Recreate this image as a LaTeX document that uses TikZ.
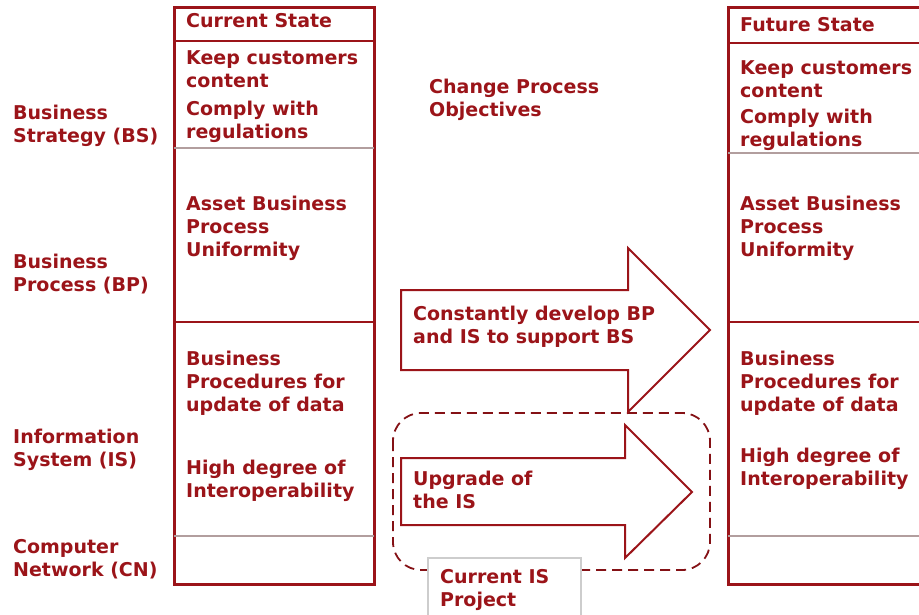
\documentclass[tikz,border=0pt]{standalone}
\usepackage{fontspec}
\setmainfont{DejaVu Sans}
\usetikzlibrary{positioning}
\definecolor{statered}{RGB}{155,20,25}
\definecolor{rowgrey}{RGB}{178,158,158}
\definecolor{boxgrey}{RGB}{205,205,205}

\begin{document}
\begin{tikzpicture}[x=1pt, y=-1pt,
  lbl/.style={anchor=base west, inner sep=0pt, align=left, text=statered,
    font=\fontsize{19}{23}\selectfont\bfseries},
  frame/.style={draw=statered, line width=3pt},
  redrule/.style={draw=statered, line width=2pt},
  greyrule/.style={draw=rowgrey, line width=1.4pt},
  bigarrow/.style={draw=statered, line width=2pt, fill=white, line join=miter},
]
\clip (0,0) rectangle (919,615);

% layer labels (base = last line)
\node[lbl] (bs) at (13,143) {Business\\Strategy (BS)};
\node[lbl] (bp) at (13,291) {Business\\Process (BP)};
\node[lbl] (is) at (13,466) {Information\\System (IS)};
\node[lbl] (cn) at (13,576) {Computer\\Network (CN)};

% current state column
\draw[frame] (174,8) rectangle (374,584);
\draw[redrule] (174,41) -- (374,41);
\draw[greyrule] (174,148) -- (374,148);
\draw[redrule] (174,322) -- (374,322);
\draw[greyrule] (174,536) -- (374,536);
\node[lbl] (curhead) at (186,28) {Current State};
\node[lbl] (curkeep) at (186,88) {Keep customers\\content};
\node[lbl] (curcomply) at (186,139) {Comply with\\regulations};
\node[lbl] (curasset) at (186,256) {Asset Business\\Process\\Uniformity};
\node[lbl] (curproc) at (186,411) {Business\\Procedures for\\update of data};
\node[lbl] (curinterop) at (186,497) {High degree of\\Interoperability};

% future state column
\draw[frame] (728,8) rectangle (940,584);
\draw[redrule] (728,43) -- (940,43);
\draw[greyrule] (728,153) -- (940,153);
\draw[redrule] (728,322) -- (940,322);
\draw[greyrule] (728,536) -- (940,536);
\node[lbl] (futhead) at (740,32) {Future State};
\node[lbl] (futkeep) at (740,98) {Keep customers\\content};
\node[lbl] (futcomply) at (740,147) {Comply with\\regulations};
\node[lbl] (futasset) at (740,256) {Asset Business\\Process\\Uniformity};
\node[lbl] (futproc) at (740,411) {Business\\Procedures for\\update of data};
\node[lbl] (futinterop) at (740,485) {High degree of\\Interoperability};

\node[lbl] (objectives) at (429,117) {Change Process\\Objectives};

% IS project scope
\draw[draw=statered!85!black, line width=1.8pt, dash pattern=on 10pt off 6pt,
  rounded corners=28pt] (393,413) rectangle (710,570);

% change arrows
\draw[bigarrow] (401,290) -- (628,290) -- (628,248) -- (710,330)
  -- (628,412) -- (628,370) -- (401,370) -- cycle;
\node[lbl] (develop) at (413,343) {Constantly develop BP\\and IS to support BS};
\draw[bigarrow] (401,458) -- (625,458) -- (625,425) -- (692,492)
  -- (625,558) -- (625,525) -- (401,525) -- cycle;
\node[lbl] (upgrade) at (413,508) {Upgrade of\\the IS};

\draw[draw=boxgrey, line width=1.2pt, fill=white] (428,558) rectangle (581,630);
\node[lbl] (project) at (440,606) {Current IS\\Project};
\end{tikzpicture}
\end{document}
